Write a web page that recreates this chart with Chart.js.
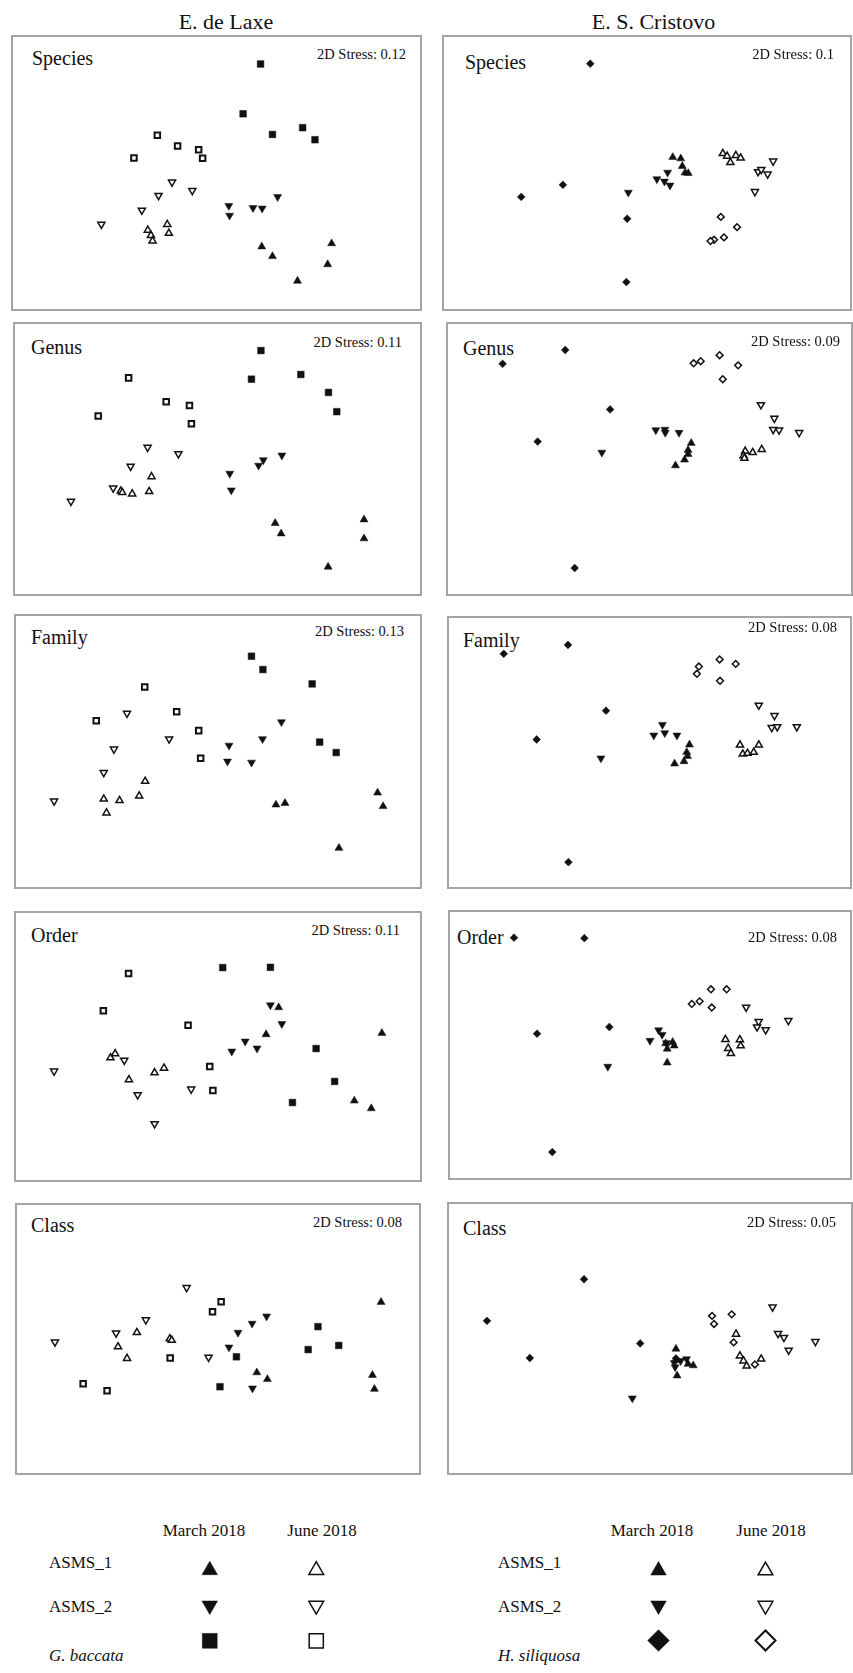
<!DOCTYPE html>
<html><head><meta charset="utf-8">
<script src="https://cdn.jsdelivr.net/npm/chart.js@4.4.0/dist/chart.umd.min.js"></script>
<style>
html,body{margin:0;padding:0;background:#fff;}
body{width:853px;height:1673px;position:relative;overflow:hidden;font-family:'Liberation Serif','Times New Roman',serif;color:#111;}
.t{position:absolute;white-space:nowrap;}
.frame{position:absolute;border:2px solid #a4a4a4;box-sizing:border-box;pointer-events:none;}
canvas{position:absolute;}
</style></head><body>
<script>
// ---------- DATA ----------
const sites = ['E. de Laxe', 'E. S. Cristovo'];
const levels = ['Species', 'Genus', 'Family', 'Order', 'Class'];
const stressLaxe = [0.12, 0.11, 0.13, 0.11, 0.08];
const stressCristovo = [0.1, 0.09, 0.08, 0.08, 0.05];
const months = ['March 2018', 'June 2018'];
const groupsLaxe = ['ASMS_1', 'ASMS_2', 'G. baccata'];
const groupsCristovo = ['ASMS_1', 'ASMS_2', 'H. siliquosa'];
// series order in every panel: ASMS_1 Mar, ASMS_1 Jun, ASMS_2 Mar, ASMS_2 Jun, alga Mar, alga Jun  (nMDS coords, 0-100)
const laxeSpecies = [
  [[61.4,21.9],[64.1,18.2],[70.4,8.8],[78.0,15.1],[79.0,23.1]],
  [[37.6,30.4],[32.7,28.2],[33.5,26.2],[33.9,24.1],[38.0,27.0]],
  [[53.1,37.5],[53.3,33.8],[59.2,36.7],[61.5,36.5],[65.4,40.9]],
  [[38.8,46.5],[43.9,43.3],[35.4,41.4],[31.2,35.8],[21.0,30.4]],
  [[61.1,91.6],[56.7,72.6],[64.1,64.7],[71.7,67.3],[74.8,62.7]],
  [[35.1,64.4],[40.2,60.3],[45.5,58.9],[46.5,55.6],[29.2,55.7]]
];
const cristovoSpecies = [
  [[56.5,56.0],[58.5,55.5],[58.9,52.6],[59.6,50.1],[60.4,49.9]],
  [[69.1,57.4],[70.2,56.4],[71.0,54.0],[72.4,56.7],[73.6,55.7]],
  [[45.3,42.6],[52.5,47.7],[54.4,46.8],[55.2,50.2],[55.8,45.3]],
  [[81.8,54.5],[78.0,50.5],[78.8,51.3],[80.4,49.6],[77.2,42.9]],
  [[35.7,91.6],[28.8,45.5],[18.3,40.9],[45.0,32.6],[44.8,8.5]],
  [[68.6,33.3],[72.7,29.4],[69.4,25.5],[66.9,24.6],[66.0,24.1]]
];
const laxeGenus = [
  [[64.6,25.3],[66.1,21.3],[78.0,8.5],[87.1,26.7],[87.1,19.4]],
  [[33.3,43.2],[25.5,37.7],[28.4,36.6],[32.7,37.5],[25.9,37.1]],
  [[53.1,44.4],[53.5,38.0],[60.4,47.5],[61.6,49.6],[66.3,51.4]],
  [[32.3,54.5],[40.1,52.0],[28.0,47.2],[23.6,38.8],[12.9,33.7]],
  [[61.0,91.7],[58.6,80.7],[71.1,82.5],[78.1,75.6],[80.2,68.2]],
  [[27.5,81.2],[37.0,72.0],[42.9,70.6],[43.4,63.6],[19.8,66.5]]
];
const cristovoGenus = [
  [[60.6,56.1],[59.8,53.4],[59.8,51.8],[58.9,49.7],[56.6,47.5]],
  [[74.3,53.0],[76.2,52.5],[78.5,53.7],[73.9,51.3],[74.1,50.3]],
  [[51.6,61.1],[53.9,61.3],[54.0,60.1],[57.5,60.1],[37.9,52.5]],
  [[78.3,70.8],[81.7,65.6],[81.4,61.3],[82.9,61.1],[88.0,60.1]],
  [[12.7,86.5],[28.6,91.8],[40.0,69.0],[21.6,56.7],[31.0,8.2]],
  [[61.2,86.7],[63.0,87.5],[67.8,89.8],[72.5,85.9],[68.6,80.6]]
];
const laxeFamily = [
  [[64.7,29.6],[67.0,30.2],[90.5,34.2],[91.9,29.0],[80.7,13.0]],
  [[31.5,38.6],[30.0,33.0],[25.0,31.2],[21.0,31.8],[21.7,26.5]],
  [[66.1,61.3],[61.3,54.8],[52.8,52.3],[52.4,46.2],[58.5,45.8]],
  [[26.9,64.6],[37.6,54.8],[23.6,50.9],[21.0,41.9],[8.4,31.0]],
  [[58.5,86.5],[61.4,81.4],[73.9,75.9],[75.8,53.6],[80.0,49.6]],
  [[31.4,74.7],[39.5,65.2],[19.1,61.8],[45.1,58.0],[45.6,47.4]]
];
const cristovoFamily = [
  [[60.2,53.0],[59.5,50.1],[59.7,48.6],[58.8,46.6],[56.4,45.7]],
  [[73.1,52.9],[77.9,52.9],[73.8,49.4],[75.0,49.7],[76.6,50.1]],
  [[53.3,60.7],[51.1,56.6],[53.9,57.5],[57.0,56.6],[37.6,47.8]],
  [[77.9,68.2],[81.9,64.2],[81.2,59.6],[82.6,59.9],[87.6,59.9]],
  [[12.8,88.0],[29.2,91.4],[38.9,66.1],[21.2,55.0],[29.3,7.8]],
  [[62.6,83.1],[62.1,80.3],[67.9,85.8],[72.0,84.1],[68.0,77.6]]
];
const laxeOrder = [
  [[65.4,65.2],[62.2,54.7],[91.6,55.2],[84.6,28.9],[88.9,25.9]],
  [[22.7,45.6],[23.9,47.2],[27.4,37.1],[33.9,39.8],[36.3,41.6]],
  [[63.3,66.1],[66.2,58.8],[56.9,52.0],[59.9,49.3],[53.5,48.1]],
  [[8.4,40.4],[26.2,44.6],[29.6,31.2],[43.2,33.4],[33.9,19.9]],
  [[51.2,80.7],[63.3,80.8],[74.9,49.2],[79.6,36.4],[68.9,28.2]],
  [[27.3,78.4],[20.9,63.9],[42.4,58.3],[47.9,42.2],[48.7,32.9]]
];
const cristovoOrder = [
  [[54.0,50.6],[55.8,51.1],[56.2,49.7],[54.4,48.5],[54.4,43.1]],
  [[69.3,52.2],[73.0,52.1],[70.0,48.7],[73.2,49.7],[70.7,46.7]],
  [[52.2,55.8],[53.1,54.0],[50.0,51.7],[39.2,41.6],[54.2,50.8]],
  [[74.6,64.7],[77.8,59.1],[77.4,57.0],[79.6,55.9],[85.4,59.5]],
  [[15.2,91.8],[33.2,91.6],[21.1,54.4],[39.6,57.0],[25.0,8.3]],
  [[60.7,66.0],[62.7,67.0],[65.6,71.7],[69.6,71.7],[65.8,64.6]]
];
const laxeClass = [
  [[91.6,64.3],[59.9,37.0],[62.6,34.4],[89.4,36.0],[89.9,30.6]],
  [[29.3,52.5],[37.7,50.1],[38.2,49.5],[24.5,47.0],[26.8,42.5]],
  [[62.4,58.8],[58.7,56.0],[55.1,52.5],[52.8,46.8],[58.8,30.9]],
  [[42.0,69.9],[31.6,57.4],[24.0,52.3],[8.4,48.8],[47.6,42.9]],
  [[75.5,54.8],[80.8,47.5],[73.0,45.9],[54.7,43.1],[50.5,31.5]],
  [[50.8,64.4],[48.6,60.6],[37.8,42.6],[15.6,32.7],[21.7,29.9]]
];
const cristovoClass = [
  [[56.6,46.0],[61.0,39.6],[56.9,35.7],[56.6,41.7],[59.7,40.2]],
  [[71.9,51.7],[72.9,43.3],[73.8,41.4],[74.6,39.4],[78.3,42.1]],
  [[45.5,27.0],[56.4,39.0],[57.8,41.4],[59.3,42.1],[56.2,40.6]],
  [[81.2,62.1],[82.6,51.9],[84.1,50.4],[85.3,45.5],[92.1,48.8]],
  [[33.2,72.8],[8.5,56.8],[19.4,42.5],[47.5,48.1],[56.6,42.3]],
  [[65.8,58.7],[66.3,55.6],[70.8,59.3],[71.3,48.5],[76.7,40.0]]
];

// ---------- LAYOUT ----------
const laxeData = [laxeSpecies, laxeGenus, laxeFamily, laxeOrder, laxeClass];
const cristovoData = [cristovoSpecies, cristovoGenus, cristovoFamily, cristovoOrder, cristovoClass];
// [left, top, width, height, labelDx, labelDy, stressMarginRight, stressDy]
const framesL = [
  [12, 36, 409, 274, 20, 22, 15, 18],
  [14, 323, 407, 272, 17, 24, 19, 19],
  [15, 615, 406, 273, 16, 22, 17, 16],
  [15, 912, 406, 269, 16, 23, 21, 18],
  [16, 1204, 404, 270, 15, 21, 18, 18]
];
const framesR = [
  [443, 36, 408, 274, 22, 26, 17, 18],
  [447, 323, 405, 272, 16, 25, 12, 18],
  [448, 617, 403, 271, 15, 23, 14, 10],
  [449, 911, 402, 268, 8, 26, 14, 26],
  [448, 1203, 404, 271, 15, 25, 16, 19]
];
const INK = '#111';

function text(str, x, y, size, align, italic) {
  const d = document.createElement('div');
  d.className = 't';
  d.textContent = str;
  d.style.fontSize = size + 'px';
  d.style.lineHeight = size + 'px';
  d.style.top = (y - size / 2) + 'px';
  if (italic) d.style.fontStyle = 'italic';
  if (align === 'center') { d.style.left = x + 'px'; d.style.transform = 'translateX(-50%)'; }
  else if (align === 'right') { d.style.right = (853 - x) + 'px'; }
  else d.style.left = x + 'px';
  document.body.appendChild(d);
}

function markerStyle(i, alga, legend) {
  const filled = (i % 2 === 0);
  const kind = i < 2 ? 'up' : (i < 4 ? 'down' : alga);
  let r, bw;
  if (kind === 'up' || kind === 'down') { r = legend ? (filled ? 9 : 8.5) : (filled ? 4.6 : 4.1); bw = filled ? 0.5 : 1.5; }
  else if (kind === 'rect') { r = legend ? (filled ? 10.5 : 10) : (filled ? 4.7 : 3.9); bw = filled ? 0.5 : (legend ? 1.5 : 2); }
  else { r = legend ? (filled ? 10.8 : 10) : (filled ? 3.9 : 3.4); bw = filled ? 0.5 : (legend ? 2 : 1.5); }
  return {
    pointStyle: (kind === 'up' || kind === 'down') ? 'triangle' : kind,
    pointRotation: kind === 'down' ? 180 : 0,
    pointRadius: r,
    pointBorderWidth: bw,
    pointBackgroundColor: filled ? INK : '#fff',
    pointBorderColor: INK,
    showLine: false,
    clip: false
  };
}

function makeCanvas(l, t, w, h) {
  const c = document.createElement('canvas');
  c.width = w; c.height = h;
  c.style.left = l + 'px'; c.style.top = t + 'px';
  c.style.width = w + 'px'; c.style.height = h + 'px';
  document.body.appendChild(c);
  return c;
}

function baseOptions(xmin, xmax, ymin, ymax, reverseY) {
  return {
    responsive: false, animation: false, events: [],
    devicePixelRatio: 1,
    layout: { padding: 0 },
    plugins: { legend: { display: false }, tooltip: { enabled: false }, title: { display: false } },
    scales: {
      x: { type: 'linear', min: xmin, max: xmax, display: false },
      y: { type: 'linear', min: ymin, max: ymax, display: false, reverse: !!reverseY }
    }
  };
}

function panel(frame, data, label, stress, alga) {
  const [l, t, w, h, ldx, ldy, smr, sdy] = frame;
  text(label, l + ldx, t + ldy, 20, 'left');
  text('2D Stress: ' + stress, l + w - smr, t + sdy, 14.5, 'right');
  const c = makeCanvas(l, t, w, h);
  const datasets = data.map((pts, i) => Object.assign({
    data: pts.map(p => ({ x: p[0], y: p[1] }))
  }, markerStyle(i, alga, false)));
  new Chart(c, { type: 'scatter', data: { datasets }, options: baseOptions(0, 100, 0, 100, false) });
  const f = document.createElement('div');
  f.className = 'frame';
  f.style.left = (l - 1) + 'px'; f.style.top = (t - 1) + 'px';
  f.style.width = (w + 2) + 'px'; f.style.height = (h + 2) + 'px';
  document.body.appendChild(f);
}

text(sites[0], 226, 22, 22, 'center');
text(sites[1], 653.5, 22, 22, 'center');
for (let k = 0; k < levels.length; k++) {
  panel(framesL[k], laxeData[k], levels[k], stressLaxe[k], 'rect');
  panel(framesR[k], cristovoData[k], levels[k], stressCristovo[k], 'rectRot');
}

// ---------- LEGENDS ----------
function legend(colX, labelX, groups, alga) {
  text(months[0], colX[0], 1530, 17, 'center');
  text(months[1], colX[1], 1530, 17, 'center');
  const rowsY = [1562, 1606.5, 1655.5];
  groups.forEach((g, i) => text(g, labelX, rowsY[i], 17, 'left', i === 2));
  const span = colX[1] - colX[0];
  const c = makeCanvas(colX[0] - span / 2, 1541, span * 2, 129);
  const datasets = [];
  for (let i = 0; i < 6; i++) {
    const row = Math.floor(i / 2), col = i % 2;
    datasets.push(Object.assign({ data: [{ x: col, y: row }] }, markerStyle(i, alga, true)));
  }
  new Chart(c, { type: 'scatter', data: { datasets }, options: baseOptions(-0.5, 1.5, -0.5, 2.5, true) });
}
legend([204, 322], 49, groupsLaxe, 'rect');
legend([652, 771], 498, groupsCristovo, 'rectRot');
</script>
</body></html>
